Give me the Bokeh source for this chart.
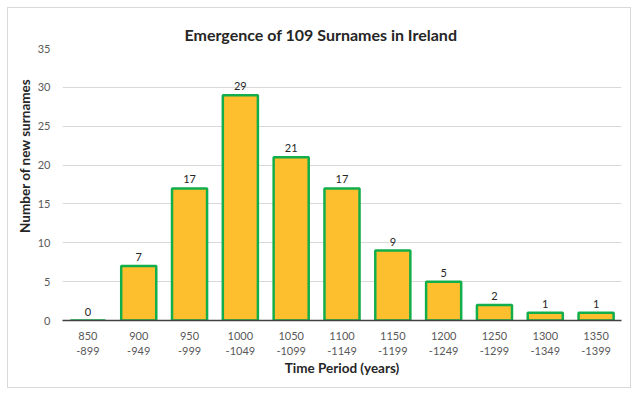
from bokeh.plotting import figure
from bokeh.models import ColumnDataSource, FactorRange, SingleIntervalTicker, Range1d, Title
from bokeh.core.properties import value
from bokeh.embed import file_html
from bokeh.resources import INLINE

periods = ["850\n-899", "900\n-949", "950\n-999", "1000\n-1049", "1050\n-1099",
           "1100\n-1149", "1150\n-1199", "1200\n-1249", "1250\n-1299",
           "1300\n-1349", "1350\n-1399"]
counts = [0, 7, 17, 29, 21, 17, 9, 5, 2, 1, 1]
labels = [str(c) for c in counts]

FONT = "Lato"

src = ColumnDataSource(dict(x=periods, top=counts, lab=labels))

p = figure(width=624, height=381, x_range=FactorRange(*periods, range_padding=0),
           y_range=Range1d(0, 35), output_backend="svg", toolbar_location=None,
           title="Emergence of 109 Surnames in Ireland",
           min_border_left=54, min_border_right=11, min_border_top=40,
           min_border_bottom=69, margin=(7, 7, 7, 7),
           styles={"border": "1px solid #D9D9D9"})

p.vbar(x="x", top="top", width=0.69, source=src, fill_color="#FDBF2D",
       line_color="#12AE4B", line_width=2.5)
p.text(x="x", y="top", text="lab", source=src, text_align="center",
       text_baseline="bottom", y_offset=-5, text_font=value(FONT),
       text_font_size="11px", text_color="#262626")

p.title.align = "left"
p.title.offset = 122
p.title.text_font = FONT
p.title.text_font_size = "16px"
p.title.text_font_style = "bold"
p.title.text_color = "#262626"

ylab = Title(text="Number of new surnames", align="right", offset=30,
             standoff=4,
             text_font=FONT, text_font_size="13.5px", text_font_style="bold",
             text_color="#262626")
p.add_layout(ylab, "left")

p.outline_line_color = None
p.xgrid.grid_line_color = None
p.ygrid.grid_line_color = "#D9D9D9"
p.ygrid.grid_line_width = 1

p.yaxis.ticker = SingleIntervalTicker(interval=5)
p.yaxis.axis_line_color = None
p.yaxis.major_tick_line_color = None
p.yaxis.minor_tick_line_color = None
p.yaxis.major_label_text_font = FONT
p.yaxis.major_label_text_font_size = "11px"
p.yaxis.major_label_text_color = "#595959"
p.yaxis.major_label_standoff = 6

p.xaxis.axis_line_color = "#404040"
p.xaxis.axis_line_width = 1.5
p.xaxis.major_tick_line_color = None
p.xaxis.minor_tick_line_color = None
p.xaxis.major_label_text_font = FONT
p.xaxis.major_label_text_font_size = "11px"
p.xaxis.major_label_text_color = "#595959"
p.xaxis.major_label_standoff = 2
p.xaxis.axis_label = "Time Period (years)"
p.xaxis.axis_label_text_font = FONT
p.xaxis.axis_label_text_font_size = "13.5px"
p.xaxis.axis_label_text_font_style = "bold"
p.xaxis.axis_label_text_color = "#262626"
p.xaxis.axis_label_standoff = 0

open("out.html", "w").write(file_html(p, INLINE))
